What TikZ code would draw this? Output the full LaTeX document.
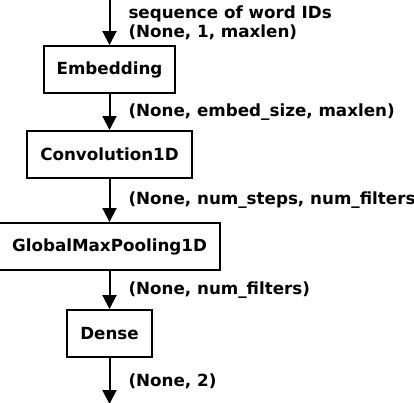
\documentclass[tikz,border=0pt]{standalone}
\usepackage{fontspec}
\setmainfont{DejaVu Sans}
\usetikzlibrary{positioning, arrows.meta}

\begin{document}
\begin{tikzpicture}[x=1bp, y=1bp,
    layer/.style={draw, line width=2bp, minimum height=47bp, inner xsep=13bp,
      font=\fontsize{16.8}{19}\selectfont\bfseries},
    shapelabel/.style={midway, anchor=west, xshift=18bp, inner sep=0pt, align=left,
      font=\fontsize{16.8}{19}\selectfont\bfseries},
    flow/.style={-{Triangle[width=14bp, length=14bp]}, line width=2bp}]
    \useasboundingbox (0,0) rectangle (414,-403);

    \coordinate (in) at (109.5,0);
    \node[layer] (emb) at (109.5,-69.5) {Embedding};
    \node[layer, below=36bp of emb] (conv) {Convolution1D};
    \node[layer, below=43bp of conv] (pool) {GlobalMaxPooling1D};
    \node[layer, below=38bp of pool] (dense) {Dense};
    \coordinate[below=46bp of dense] (out);

    \draw[flow] (in) -- node[shapelabel] {sequence of word IDs\\(None, 1, maxlen)} (emb);
    \draw[flow] (emb) -- node[shapelabel] {(None, embed\_size, maxlen)} (conv);
    \draw[flow] (conv) -- node[shapelabel] {(None, num\_steps, num\_filters)} (pool);
    \draw[flow] (pool) -- node[shapelabel] {(None, num\_filters)} (dense);
    \draw[flow] (dense) -- node[shapelabel] {(None, 2)} (out);
  \end{tikzpicture}
\end{document}
